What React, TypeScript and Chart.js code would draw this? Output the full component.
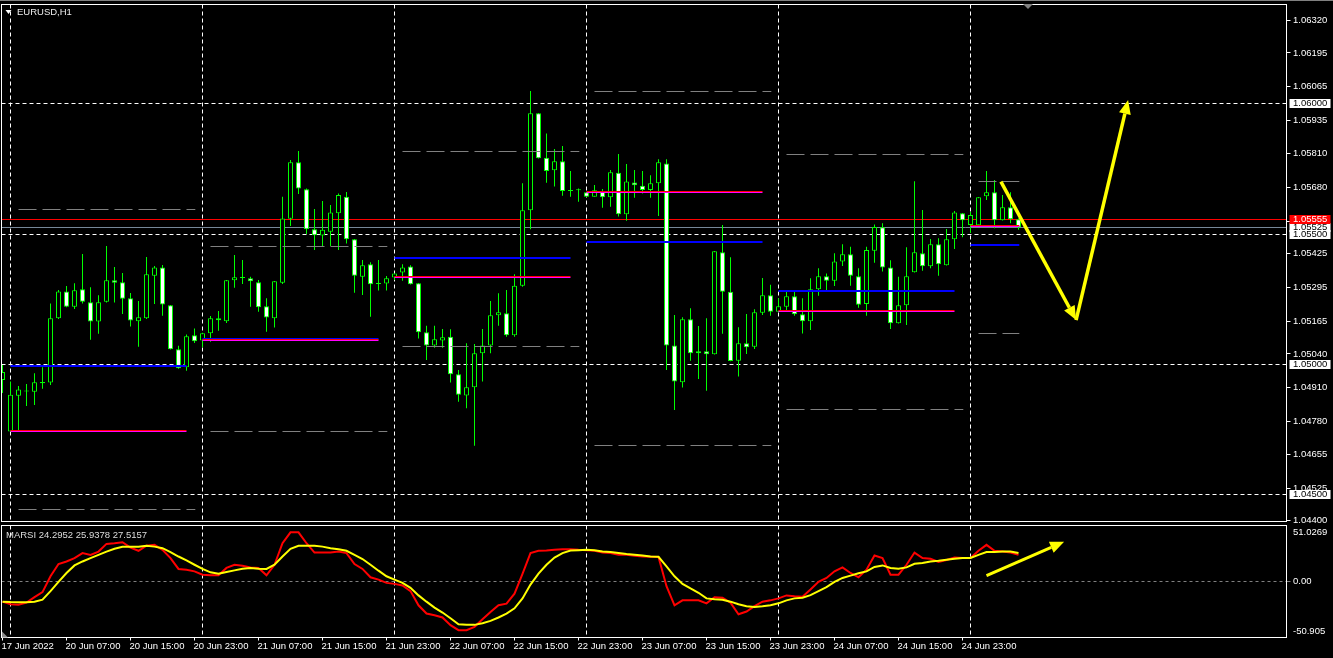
import React, { useEffect, useRef } from "react";
import { Chart, registerables } from "chart.js";

Chart.register(...registerables);

const FONT_FAMILY = "'Liberation Sans', Arial, sans-serif";
const FONT_SIZE = 9.5;
const FONT = `${FONT_SIZE}px ${FONT_FAMILY}`;

const symbolTitle = "EURUSD,H1";
const indicatorTitle = "MARSI 24.2952 25.9378 27.5157";

const timeLabels = ["17 Jun 2022", "20 Jun 07:00", "20 Jun 15:00", "20 Jun 23:00", "21 Jun 07:00", "21 Jun 15:00", "21 Jun 23:00", "22 Jun 07:00", "22 Jun 15:00", "22 Jun 23:00", "23 Jun 07:00", "23 Jun 15:00", "23 Jun 23:00", "24 Jun 07:00", "24 Jun 15:00", "24 Jun 23:00"];
const timeLabelBars = [0, 8, 16, 24, 32, 40, 48, 56, 64, 72, 80, 88, 96, 104, 112, 120];

const open = [1.04940, 1.04742, 1.04880, 1.04896, 1.04895, 1.04928, 1.04930, 1.05177, 1.05280, 1.05221,
  1.05288, 1.05238, 1.05164, 1.05240, 1.05323, 1.05315, 1.05254, 1.05165, 1.05177, 1.05340,
  1.05372, 1.05227, 1.05058, 1.04989, 1.05112, 1.05092, 1.05119, 1.05177, 1.05165, 1.05323,
  1.05331, 1.05330, 1.05315, 1.05223, 1.05177, 1.05313, 1.05559, 1.05775, 1.05672, 1.05518,
  1.05494, 1.05509, 1.05580, 1.05643, 1.05480, 1.05336, 1.05384, 1.05311, 1.05310, 1.05333,
  1.05352, 1.05375, 1.05311, 1.05123, 1.05072, 1.05092, 1.05106, 1.04962, 1.04881, 1.04912,
  1.05043, 1.05072, 1.05188, 1.05196, 1.05112, 1.05302, 1.05591, 1.05963, 1.05793, 1.05745,
  1.05779, 1.05667, 1.05668, 1.05660, 1.05643, 1.05662, 1.05641, 1.05735, 1.05576, 1.05698,
  1.05685, 1.05669, 1.05695, 1.05771, 1.05072, 1.04931, 1.05173, 1.05050, 1.05050, 1.05039,
  1.05430, 1.05279, 1.05014, 1.05081, 1.05068, 1.05198, 1.05265, 1.05202, 1.05221, 1.05261,
  1.05192, 1.05165, 1.05288, 1.05338, 1.05321, 1.05395, 1.05422, 1.05338, 1.05232, 1.05436,
  1.05526, 1.05372, 1.05158, 1.05227, 1.05353, 1.05426, 1.05376, 1.05461, 1.05380, 1.05480,
  1.05580, 1.05535, 1.05534, 1.05645, 1.05660, 1.05553, 1.05603, 1.05557];

const high = [1.04998, 1.04934, 1.04917, 1.04925, 1.04966, 1.04989, 1.05234, 1.05285, 1.05301, 1.05311,
  1.05423, 1.05296, 1.05265, 1.05454, 1.05374, 1.05351, 1.05274, 1.05243, 1.05412, 1.05377,
  1.05381, 1.05228, 1.05071, 1.05115, 1.05138, 1.05121, 1.05186, 1.05205, 1.05324, 1.05420,
  1.05400, 1.05336, 1.05324, 1.05254, 1.05320, 1.05643, 1.05784, 1.05819, 1.05675, 1.05596,
  1.05627, 1.05611, 1.05656, 1.05661, 1.05481, 1.05400, 1.05392, 1.05400, 1.05339, 1.05350,
  1.05384, 1.05380, 1.05312, 1.05148, 1.05148, 1.05136, 1.05135, 1.04978, 1.05081, 1.05078,
  1.05136, 1.05243, 1.05273, 1.05285, 1.05346, 1.05695, 1.06049, 1.05964, 1.05886, 1.05826,
  1.05838, 1.05742, 1.05675, 1.05661, 1.05688, 1.05673, 1.05746, 1.05807, 1.05769, 1.05746,
  1.05742, 1.05726, 1.05787, 1.05787, 1.05189, 1.05181, 1.05215, 1.05147, 1.05177, 1.05435,
  1.05535, 1.05411, 1.05142, 1.05193, 1.05211, 1.05331, 1.05305, 1.05254, 1.05279, 1.05279,
  1.05254, 1.05330, 1.05369, 1.05349, 1.05426, 1.05461, 1.05451, 1.05369, 1.05451, 1.05537,
  1.05541, 1.05399, 1.05336, 1.05449, 1.05703, 1.05592, 1.05481, 1.05484, 1.05519, 1.05588,
  1.05581, 1.05585, 1.05642, 1.05742, 1.05707, 1.05650, 1.05660, 1.05561];

const low = [1.04890, 1.04741, 1.04748, 1.04840, 1.04844, 1.04906, 1.04921, 1.05174, 1.05219, 1.05212,
  1.05234, 1.05094, 1.05117, 1.05237, 1.05237, 1.05193, 1.05145, 1.05068, 1.05174, 1.05232,
  1.05187, 1.05057, 1.04983, 1.04976, 1.05082, 1.05066, 1.05087, 1.05129, 1.05159, 1.05294,
  1.05308, 1.05221, 1.05202, 1.05125, 1.05141, 1.05308, 1.05531, 1.05654, 1.05500, 1.05439,
  1.05454, 1.05454, 1.05439, 1.05464, 1.05275, 1.05266, 1.05183, 1.05283, 1.05283, 1.05324,
  1.05321, 1.05306, 1.05099, 1.05017, 1.05064, 1.05064, 1.04930, 1.04857, 1.04832, 1.04688,
  1.04934, 1.05043, 1.05148, 1.05106, 1.05106, 1.05298, 1.05518, 1.05790, 1.05697, 1.05682,
  1.05647, 1.05643, 1.05624, 1.05642, 1.05643, 1.05601, 1.05605, 1.05567, 1.05551, 1.05639,
  1.05656, 1.05639, 1.05569, 1.04978, 1.04825, 1.04911, 1.05014, 1.04944, 1.04899, 1.05038,
  1.05117, 1.05012, 1.04953, 1.05040, 1.05059, 1.05189, 1.05187, 1.05201, 1.05209, 1.05187,
  1.05118, 1.05132, 1.05263, 1.05285, 1.05301, 1.05377, 1.05302, 1.05217, 1.05187, 1.05390,
  1.05356, 1.05136, 1.05157, 1.05151, 1.05352, 1.05359, 1.05369, 1.05340, 1.05379, 1.05443,
  1.05488, 1.05504, 1.05533, 1.05631, 1.05522, 1.05552, 1.05541, 1.05516];

const close = [1.04971, 1.04883, 1.04904, 1.04900, 1.04931, 1.04932, 1.05177, 1.05280, 1.05221, 1.05284,
  1.05240, 1.05164, 1.05238, 1.05323, 1.05313, 1.05252, 1.05168, 1.05181, 1.05346, 1.05372,
  1.05230, 1.05058, 1.04985, 1.05108, 1.05089, 1.05119, 1.05177, 1.05169, 1.05323, 1.05334,
  1.05334, 1.05319, 1.05219, 1.05180, 1.05319, 1.05560, 1.05775, 1.05675, 1.05518, 1.05495,
  1.05516, 1.05583, 1.05650, 1.05480, 1.05340, 1.05380, 1.05307, 1.05308, 1.05330, 1.05349,
  1.05372, 1.05307, 1.05123, 1.05072, 1.05096, 1.05104, 1.04962, 1.04883, 1.04912, 1.05043,
  1.05072, 1.05188, 1.05200, 1.05112, 1.05302, 1.05591, 1.05963, 1.05791, 1.05742, 1.05779,
  1.05665, 1.05665, 1.05670, 1.05643, 1.05668, 1.05641, 1.05737, 1.05576, 1.05702, 1.05687,
  1.05669, 1.05695, 1.05775, 1.05072, 1.04934, 1.05173, 1.05043, 1.05043, 1.05039, 1.05434,
  1.05279, 1.05013, 1.05081, 1.05066, 1.05200, 1.05265, 1.05202, 1.05223, 1.05261, 1.05192,
  1.05165, 1.05288, 1.05338, 1.05321, 1.05395, 1.05422, 1.05340, 1.05229, 1.05439, 1.05527,
  1.05372, 1.05158, 1.05227, 1.05338, 1.05430, 1.05376, 1.05461, 1.05384, 1.05480, 1.05583,
  1.05553, 1.05573, 1.05641, 1.05660, 1.05553, 1.05603, 1.05557, 1.05525];

const marsiRed = [-18.3, -20.7, -21.0, -19.2, -14.2, -9.6, 4.8, 16.0, 18.3, 21.4,
  25.9, 24.3, 27.3, 34.3, 34.9, 35.8, 30.9, 28.0, 32.7, 33.4,
  28.9, 21.4, 11.5, 10.8, 9.3, 6.3, 5.7, 5.7, 12.4, 15.3,
  14.4, 12.9, 12.4, 5.7, 15.3, 34.9, 44.8, 44.8, 34.9, 26.4,
  26.4, 26.4, 27.3, 25.9, 16.0, 11.5, 3.9, 1.8, -1.2, -2.1,
  -3.6, -8.7, -21.6, -29.1, -30.7, -32.7, -39.7, -44.2, -44.2, -41.2,
  -34.3, -27.7, -21.6, -20.1, -11.0, 7.0, 25.9, 28.0, 28.2, 28.9,
  29.5, 29.5, 28.9, 28.6, 28.0, 26.4, 25.9, 24.3, 24.3, 23.4,
  22.8, 22.5, 22.3, -4.2, -21.6, -17.1, -16.9, -17.1, -19.8, -14.2,
  -14.7, -19.2, -29.8, -27.3, -22.3, -18.3, -17.1, -15.3, -12.6, -13.3,
  -13.8, -7.2, -0.3, 3.3, 9.3, 12.9, 7.8, 3.9, 10.8, 23.7,
  21.4, 6.3, 6.3, 15.3, 26.4, 21.4, 20.7, 17.8, 19.6, 21.9,
  21.4, 21.4, 28.0, 33.4, 28.0, 27.3, 26.4, 24.2952];

const marsiYellow = [-18.3, -18.7, -18.9, -18.9, -18.3, -16.5, -8.7, -0.3, 7.8, 14.7,
  18.3, 21.4, 24.3, 27.3, 29.8, 31.6, 31.8, 31.8, 32.5, 31.8,
  30.4, 26.8, 22.8, 19.2, 15.3, 11.5, 8.4, 7.2, 8.7, 10.2,
  11.7, 12.4, 11.7, 11.5, 15.3, 22.8, 29.8, 32.5, 32.5, 32.5,
  31.8, 30.4, 29.5, 28.0, 24.3, 20.5, 15.3, 9.9, 4.8, 1.8,
  -1.2, -5.7, -12.6, -18.3, -23.7, -28.2, -33.4, -38.8, -39.4, -39.4,
  -37.9, -35.8, -32.7, -29.1, -24.3, -15.3, -2.7, 7.2, 15.3, 21.9,
  25.9, 28.2, 28.6, 28.9, 28.6, 27.3, 26.8, 25.9, 25.0, 24.3,
  23.7, 22.8, 22.5, 13.8, 4.8, -2.1, -6.3, -10.2, -15.3, -16.2,
  -16.5, -18.3, -20.7, -22.5, -23.2, -22.5, -21.6, -19.8, -17.1, -15.3,
  -14.7, -12.4, -8.7, -5.1, -0.3, 3.3, 5.4, 7.5, 9.3, 13.3,
  14.7, 12.4, 11.7, 12.9, 16.2, 16.9, 18.3, 18.9, 19.8, 20.7,
  21.4, 21.4, 24.3, 26.8, 26.8, 27.3, 27.3, 25.9378];

const priceTicks = [1.0632, 1.06195, 1.06065, 1.05935, 1.0581, 1.0568, 1.0555, 1.05425, 1.05295, 1.05165, 1.0504, 1.0491, 1.0478, 1.04655, 1.04525, 1.044];

const levelPrices = [1.06, 1.055, 1.05, 1.045];
const redLevelPrice = 1.05555;
const bidPrice = 1.05525;

const dayStartBars = [1, 25, 49, 73, 97, 121];
const dayEndBars = [23, 47, 71, 95, 119, 127.1];
const rangeStartBars = [2, 26, 50, 74, 98, 122];
const rangeEndBars = [24.1, 48.1, 72.1, 96.1, 120.1, 127.1];
const pivotBlue = [1.04995, 1.05099, 1.05408, 1.05469, 1.05283, 1.05459];
const pivotRed = [1.04746, 1.05094, 1.05337, 1.05662, 1.05208, 1.05532];
const rangeHigh = [1.05596, 1.05454, 1.05817, 1.06047, 1.05806, 1.05702];
const rangeLow = [1.04445, 1.04743, 1.05069, 1.0469, 1.04828, 1.05119];

const arrowMainBars = [124.8, 134.2, 140.7];
const arrowMainPrices = [1.05701, 1.0517, 1.06014];
const arrowSubBars = [123.0, 132.7];
const arrowSubValues = [5.4, 36.3];

const MARSI_MAX = 51.0269;
const MARSI_MIN = -50.905;
const marsiMaxLabel = "51.0269";
const marsiZeroLabel = "0.00";
const marsiMinLabel = "-50.905";

const X_MIN = -0.125;
const X_MAX = 160.5;
const PRICE_MIN = 1.043972;
const PRICE_MAX = 1.063806;

function seg(ctx: any, x1: number, y1: number, x2: number, y2: number) {
  ctx.beginPath();
  ctx.moveTo(x1, y1);
  ctx.lineTo(x2, y2);
  ctx.stroke();
}

function crisp(v: number) {
  return Math.floor(v) + 0.5;
}

function arrowSeg(ctx: any, x0: number, y0: number, x1: number, y1: number, headLen: number, headHalf: number, withHead: boolean) {
  const ang = Math.atan2(y1 - y0, x1 - x0);
  const bx = withHead ? x1 - headLen * Math.cos(ang) : x1;
  const by = withHead ? y1 - headLen * Math.sin(ang) : y1;
  ctx.beginPath();
  ctx.moveTo(x0, y0);
  ctx.lineTo(bx, by);
  ctx.stroke();
  if (withHead) {
    ctx.beginPath();
    ctx.moveTo(x1, y1);
    ctx.lineTo(bx + headHalf * Math.sin(ang), by - headHalf * Math.cos(ang));
    ctx.lineTo(bx - headHalf * Math.sin(ang), by + headHalf * Math.cos(ang));
    ctx.closePath();
    ctx.fill();
  }
}

const mainDecor = {
  id: "mainDecor",
  beforeDraw(chart: any) {
    const ctx = chart.ctx;
    ctx.save();
    ctx.fillStyle = "#000000";
    ctx.fillRect(0, 0, chart.width, chart.height);
    ctx.restore();
  },
  beforeDatasetsDraw(chart: any) {
    const { ctx, chartArea: a } = chart;
    const xs = chart.scales.x;
    const ys = chart.scales.y;
    ctx.save();
    ctx.beginPath();
    ctx.rect(a.left, a.top, a.right - a.left, a.bottom - a.top);
    ctx.clip();
    ctx.lineWidth = 1;
    ctx.strokeStyle = "#FFFFFF";
    ctx.setLineDash([4, 3]);
    for (const p of levelPrices) {
      const py = crisp(ys.getPixelForValue(p));
      seg(ctx, a.left, py, a.right, py);
    }
    for (const b of dayStartBars) {
      const px = crisp(xs.getPixelForValue(b));
      seg(ctx, px, a.top, px, a.bottom);
    }
    ctx.setLineDash([]);
    ctx.strokeStyle = "#778899";
    let py = crisp(ys.getPixelForValue(bidPrice));
    seg(ctx, a.left, py, a.right, py);
    ctx.strokeStyle = "#FF0000";
    py = crisp(ys.getPixelForValue(redLevelPrice));
    seg(ctx, a.left, py, a.right, py);
    ctx.restore();
  },
  afterDatasetsDraw(chart: any) {
    const { ctx, chartArea: a } = chart;
    const xs = chart.scales.x;
    const ys = chart.scales.y;
    ctx.save();
    ctx.beginPath();
    ctx.rect(a.left, a.top, a.right - a.left, a.bottom - a.top);
    ctx.clip();
    for (let d = 0; d < dayStartBars.length; d++) {
      const x1 = xs.getPixelForValue(dayStartBars[d]);
      const x2 = xs.getPixelForValue(dayEndBars[d]);
      const yb = Math.round(ys.getPixelForValue(pivotBlue[d]));
      ctx.fillStyle = "#0000FF";
      ctx.fillRect(x1, yb - 1, x2 - x1, 2);
      const yr = Math.round(ys.getPixelForValue(pivotRed[d]) - 0.5);
      ctx.fillStyle = "#FF0000";
      ctx.fillRect(x1, yr, x2 - x1, 1);
      ctx.fillStyle = "#FF00FF";
      ctx.fillRect(x1, yr + 1, x2 - x1, 1);
      const r1 = xs.getPixelForValue(rangeStartBars[d]);
      const r2 = xs.getPixelForValue(rangeEndBars[d]);
      ctx.strokeStyle = "#808080";
      ctx.lineWidth = 1;
      ctx.setLineDash([18, 6]);
      let gy = crisp(ys.getPixelForValue(rangeHigh[d]));
      seg(ctx, r1, gy, r2, gy);
      gy = crisp(ys.getPixelForValue(rangeLow[d]));
      seg(ctx, r1, gy, r2, gy);
      ctx.setLineDash([]);
    }
    // yellow arrowed lines
    ctx.strokeStyle = "#FFFF00";
    ctx.fillStyle = "#FFFF00";
    ctx.lineWidth = 3.5;
    const pts = arrowMainBars.map((b, i) => [xs.getPixelForValue(b), ys.getPixelForValue(arrowMainPrices[i])]);
    for (let i = 0; i < pts.length - 1; i++) {
      arrowSeg(ctx, pts[i][0], pts[i][1], pts[i + 1][0], pts[i + 1][1], 14, 6, true);
    }
    ctx.restore();
  },
  afterDraw(chart: any) {
    const { ctx, chartArea: a } = chart;
    const ys = chart.scales.y;
    ctx.save();
    ctx.fillStyle = "#808080";
    ctx.fillRect(0, 0, chart.width, 1);
    ctx.strokeStyle = "#FFFFFF";
    ctx.lineWidth = 1;
    ctx.strokeRect(a.left, a.top, a.right - a.left, a.bottom - a.top);
    // price boxes
    const boxes: [number, string, string][] = [
      [bidPrice, "#FFFFFF", "#000000"],
      [1.06, "#FFFFFF", "#000000"],
      [1.055, "#FFFFFF", "#000000"],
      [1.05, "#FFFFFF", "#000000"],
      [1.045, "#FFFFFF", "#000000"],
      [redLevelPrice, "#FF0000", "#FFFFFF"],
    ];
    ctx.font = FONT;
    ctx.textBaseline = "middle";
    ctx.textAlign = "left";
    for (const [p, bg, fg] of boxes) {
      const py = ys.getPixelForValue(p);
      const top = Math.round(py - 4.5);
      ctx.fillStyle = bg;
      ctx.fillRect(a.right + 3, top, 41, 9);
      ctx.fillStyle = fg;
      ctx.fillText(p.toFixed(5), a.right + 6.5, top + 4.8);
    }
    // title
    ctx.fillStyle = "#FFFFFF";
    ctx.beginPath();
    ctx.moveTo(5.5, 10);
    ctx.lineTo(11.5, 10);
    ctx.lineTo(8.5, 14);
    ctx.closePath();
    ctx.fill();
    ctx.fillStyle = "#EEEEEE";
    ctx.fillText(symbolTitle, 17, 12.5);
    // chart shift marker
    ctx.fillStyle = "#808080";
    ctx.beginPath();
    ctx.moveTo(1023, 4);
    ctx.lineTo(1033, 4);
    ctx.lineTo(1028, 9);
    ctx.closePath();
    ctx.fill();
    ctx.restore();
  },
};

const subDecor = {
  id: "subDecor",
  beforeDraw(chart: any) {
    const ctx = chart.ctx;
    ctx.save();
    ctx.fillStyle = "#000000";
    ctx.fillRect(0, 0, chart.width, chart.height);
    ctx.restore();
  },
  beforeDatasetsDraw(chart: any) {
    const { ctx, chartArea: a } = chart;
    const xs = chart.scales.x;
    const ys = chart.scales.y;
    ctx.save();
    ctx.beginPath();
    ctx.rect(a.left, a.top, a.right - a.left, a.bottom - a.top);
    ctx.clip();
    ctx.lineWidth = 1;
    ctx.strokeStyle = "#808080";
    ctx.setLineDash([3, 3]);
    const zy = crisp(ys.getPixelForValue(0));
    seg(ctx, a.left, zy, a.right, zy);
    ctx.strokeStyle = "#FFFFFF";
    ctx.setLineDash([4, 3]);
    for (const b of dayStartBars) {
      const px = crisp(xs.getPixelForValue(b));
      seg(ctx, px, a.top, px, a.bottom);
    }
    ctx.restore();
  },
  afterDatasetsDraw(chart: any) {
    const { ctx, chartArea: a } = chart;
    const xs = chart.scales.x;
    const ys = chart.scales.y;
    ctx.save();
    ctx.beginPath();
    ctx.rect(a.left, a.top, a.right - a.left, a.bottom - a.top);
    ctx.clip();
    ctx.strokeStyle = "#FFFF00";
    ctx.fillStyle = "#FFFF00";
    ctx.lineWidth = 3;
    const x0 = xs.getPixelForValue(arrowSubBars[0]);
    const y0 = ys.getPixelForValue(arrowSubValues[0]);
    const x1 = xs.getPixelForValue(arrowSubBars[1]);
    const y1 = ys.getPixelForValue(arrowSubValues[1]);
    arrowSeg(ctx, x0, y0, x1, y1, 14, 6, true);
    ctx.restore();
  },
  afterDraw(chart: any) {
    const { ctx, chartArea: a } = chart;
    ctx.save();
    ctx.strokeStyle = "#FFFFFF";
    ctx.lineWidth = 1;
    ctx.strokeRect(a.left, a.top, a.right - a.left, a.bottom - a.top);
    ctx.font = FONT;
    ctx.textBaseline = "middle";
    ctx.textAlign = "left";
    ctx.fillStyle = "#DCDCDC";
    ctx.fillText(indicatorTitle, 6, a.top + 9.5);
    ctx.fillStyle = "#FFFFFF";
    ctx.fillText(marsiMaxLabel, a.right + 6.5, a.top + 6.5);
    ctx.fillText(marsiMinLabel, a.right + 6.5, a.bottom - 6.5);
    ctx.fillStyle = "#8A8A8A";
    ctx.beginPath();
    ctx.moveTo(2, a.bottom - 6);
    ctx.lineTo(2, a.bottom);
    ctx.lineTo(8, a.bottom);
    ctx.closePath();
    ctx.fill();
    ctx.restore();
  },
};

export default function App() {
  const mainRef = useRef<HTMLCanvasElement | null>(null);
  const subRef = useRef<HTMLCanvasElement | null>(null);

  useEffect(() => {
    document.body.style.margin = "0";
    document.body.style.background = "#000000";
    const bars = open.map((_, i) => i);
    const tickFont = { family: FONT_FAMILY, size: FONT_SIZE };

    const main = new Chart(mainRef.current as HTMLCanvasElement, {
      type: "bar",
      data: {
        datasets: [
          {
            type: "bar",
            label: "body",
            data: bars.map((i) => ({ x: i, y: [open[i], close[i]] })) as any,
            order: 0,
            grouped: false,
            barThickness: 5,
            maxBarThickness: 5,
            minBarLength: 1,
            borderWidth: 1,
            borderColor: "#00FF00",
            borderSkipped: false,
            inflateAmount: 0,
            backgroundColor: (c: any) =>
              close[c.dataIndex] < open[c.dataIndex] ? "#FFFFFF" : "#000000",
          } as any,
          {
            type: "bar",
            label: "wick",
            data: bars.map((i) => ({ x: i, y: [low[i], high[i]] })) as any,
            order: 1,
            grouped: false,
            barThickness: 1,
            maxBarThickness: 1,
            minBarLength: 1,
            borderWidth: 0,
            inflateAmount: 0,
            backgroundColor: "#00FF00",
          } as any,
        ],
      },
      options: {
        responsive: false,
        animation: false,
        devicePixelRatio: 1,
        events: [],
        layout: { padding: { left: 1.5, top: 4.5, right: 0, bottom: 2.5 } },
        plugins: { legend: { display: false }, tooltip: { enabled: false } },
        scales: {
          x: { type: "linear", min: X_MIN, max: X_MAX, offset: false, display: false },
          y: {
            type: "linear",
            position: "right",
            min: PRICE_MIN,
            max: PRICE_MAX,
            beginAtZero: false,
            afterBuildTicks: (s: any) => {
              s.ticks = priceTicks.map((v) => ({ value: v }));
            },
            afterFit: (s: any) => {
              s.width = 46.5;
              s.paddingTop = 0;
              s.paddingBottom = 0;
            },
            grid: { drawOnChartArea: false, drawTicks: true, tickLength: 4, color: "#FFFFFF" },
            border: { display: true, color: "#FFFFFF" },
            ticks: {
              autoSkip: false,
              padding: 2.5,
              color: "#FFFFFF",
              font: tickFont,
              callback: (v: any) => Number(v).toFixed(5),
            },
          },
        },
      } as any,
      plugins: [mainDecor],
    });

    const sub = new Chart(subRef.current as HTMLCanvasElement, {
      type: "line",
      data: {
        datasets: [
          {
            label: "signal",
            data: bars.map((i) => ({ x: i, y: marsiYellow[i] })),
            borderColor: "#FFFF00",
            borderWidth: 2,
            pointRadius: 0,
            tension: 0,
            order: 0,
          },
          {
            label: "main",
            data: bars.map((i) => ({ x: i, y: marsiRed[i] })),
            borderColor: "#FF0000",
            borderWidth: 2,
            pointRadius: 0,
            tension: 0,
            order: 1,
          },
        ],
      },
      options: {
        responsive: false,
        animation: false,
        devicePixelRatio: 1,
        events: [],
        layout: { padding: { left: 1.5, top: 1.5, right: 0, bottom: 0 } },
        plugins: { legend: { display: false }, tooltip: { enabled: false } },
        scales: {
          x: {
            type: "linear",
            position: "bottom",
            min: X_MIN,
            max: X_MAX,
            offset: false,
            afterBuildTicks: (s: any) => {
              s.ticks = timeLabelBars.map((v) => ({ value: v }));
            },
            afterFit: (s: any) => {
              s.height = 20.5;
              s.paddingLeft = 0;
              s.paddingRight = 0;
            },
            grid: { drawOnChartArea: false, drawTicks: true, tickLength: 3, color: "#FFFFFF" },
            border: { display: true, color: "#FFFFFF" },
            ticks: {
              autoSkip: false,
              maxRotation: 0,
              minRotation: 0,
              align: "start",
              padding: 0.5,
              labelOffset: -1,
              color: "#FFFFFF",
              font: tickFont,
              callback: (_v: any, idx: number) => timeLabels[idx],
            },
          },
          y: {
            type: "linear",
            position: "right",
            min: MARSI_MIN,
            max: MARSI_MAX,
            afterBuildTicks: (s: any) => {
              s.ticks = [{ value: 0 }];
            },
            afterFit: (s: any) => {
              s.width = 46.5;
              s.paddingTop = 0;
              s.paddingBottom = 0;
            },
            grid: { drawOnChartArea: false, drawTicks: true, tickLength: 4, color: "#808080" },
            border: { display: true, color: "#FFFFFF" },
            ticks: {
              padding: 2.5,
              color: "#FFFFFF",
              font: tickFont,
              callback: () => marsiZeroLabel,
            },
          },
        },
      } as any,
      plugins: [subDecor],
    });

    return () => {
      main.destroy();
      sub.destroy();
    };
  }, []);

  return (
    <div style={{ position: "relative", width: 1333, height: 658, background: "#000000", overflow: "hidden" }}>
      <canvas
        ref={mainRef}
        width={1333}
        height={524}
        style={{ position: "absolute", left: 0, top: 0, width: 1333, height: 524 }}
      />
      <canvas
        ref={subRef}
        width={1333}
        height={134}
        style={{ position: "absolute", left: 0, top: 524, width: 1333, height: 134 }}
      />
    </div>
  );
}
